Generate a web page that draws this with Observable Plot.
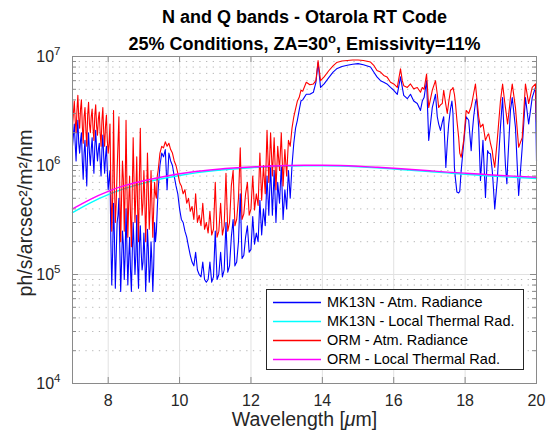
<!DOCTYPE html>
<html><head><meta charset="utf-8">
<script src="https://cdn.jsdelivr.net/npm/d3@7"></script>
<script src="https://cdn.jsdelivr.net/npm/@observablehq/plot@0.6"></script>
<style>
body{margin:0;background:#fff;}
#wrap{position:relative;width:552px;height:437px;font-family:"Liberation Sans",Arial,Helvetica,sans-serif;}
#legend{position:absolute;left:266px;top:289px;width:256px;height:79px;border:1px solid #262626;background:#fff;}
.row{position:absolute;left:0;height:19px;width:100%;}
.row svg{position:absolute;left:6px;top:8px;}
.lab{position:absolute;left:60px;top:0;line-height:19px;font-size:14.5px;color:#000;white-space:nowrap;}
</style></head>
<body><div id="wrap"><div id="chart"></div><div id="legend"></div></div>
<script>
// ---- data ----
const wavelength = [
7,7.05,7.1,7.15,7.2,7.25,7.3,7.35,7.4,7.45,7.5,7.55,7.6,7.65,7.7,7.75,7.8,7.85,7.9,7.95,
8,8.05,8.1,8.15,8.2,8.25,8.3,8.35,8.4,8.45,8.5,8.55,8.6,8.65,8.7,8.75,8.8,8.85,8.9,8.95,
9,9.05,9.1,9.15,9.2,9.25,9.3,9.35,9.4,9.45,9.5,9.55,9.6,9.65,9.7,9.75,9.8,9.85,9.9,9.95,
10,10.05,10.1,10.15,10.2,10.25,10.3,10.35,10.4,10.45,10.5,10.55,10.6,10.65,10.7,10.75,10.8,10.85,10.9,10.95,
11,11.05,11.1,11.15,11.2,11.25,11.3,11.35,11.4,11.45,11.5,11.55,11.6,11.65,11.7,11.75,11.8,11.85,11.9,11.95,
12,12.05,12.1,12.15,12.2,12.25,12.3,12.35,12.4,12.45,12.5,12.55,12.6,12.65,12.7,12.75,12.8,12.85,12.9,12.95,
13,13.05,13.1,13.15,13.2,13.25,13.3,13.35,13.4,
13.45,13.55,13.65,13.75,13.82,13.88,13.95,14.05,14.18,14.3,
14.4,14.55,14.7,14.85,15,15.15,15.35,15.44,15.53,15.63,
15.72,15.81,15.91,16,16.1,16.19,16.24,16.28,16.38,16.47,
16.56,16.66,16.75,16.8,16.85,16.92,16.98,17.08,17.17,17.22,
17.26,17.31,17.36,17.4,17.46,17.5,17.54,17.59,17.63,17.66,
17.7,17.73,17.77,17.82,17.85,17.89,17.96,18.03,18.1,18.17,
18.2,18.24,18.29,18.32,18.38,18.43,18.5,18.57,18.63,18.66,
18.71,18.76,18.78,18.83,18.9,18.99,19.05,19.11,19.13,19.17,
19.19,19.25,19.27,19.32,19.41,19.5,19.6,19.69,19.78,19.88,
19.97,20];

const mk13nRadiance = [
1.5e6,2.4e6,1.1e6,2.6e6,1.3e6,2.0e6,7.5e5,1.7e6,6.5e5,2.0e6,1.0e6,1.8e6,8.5e5,2.1e6,1.1e6,1.6e6,8.0e5,1.9e6,8.5e5,1.5e6,
6.0e5,9.0e5,8.0e4,4.5e5,7.5e4,3.0e5,5.0e5,7.0e4,2.5e5,9.0e4,4.0e5,8.0e4,2.2e5,7.0e4,3.0e5,1.0e5,3.5e5,7.5e4,2.8e5,1.1e5,
2.4e5,7.0e4,2.6e5,8.5e4,2.0e5,7.0e4,3.0e5,2.5e5,6.0e5,1.0e6,1.3e6,1.2e6,1.4e6,6.0e5,1.3e6,1.1e6,1.0e6,8.0e5,6.5e5,5.5e5,
4.0e5,3.2e5,3.0e5,2.5e5,2.2e5,1.8e5,1.5e5,1.3e5,1.2e5,1.6e5,1.1e5,1.0e5,9.5e4,1.3e5,9.0e4,8.5e4,9.0e4,1.3e5,8.5e4,9.5e4,
2.5e5,9.0e4,1.0e5,1.6e5,9.5e4,1.1e5,3.0e5,1.05e5,1.2e5,2.2e5,3.2e5,1.2e5,1.3e5,2.0e5,5.5e5,1.4e5,1.5e5,2.2e5,2.8e5,1.6e5,
1.7e5,3.4e5,1.9e5,2.4e5,2.0e5,4.8e5,2.3e5,4.0e5,2.8e5,8.0e5,3.5e5,1.0e6,3.5e5,9.0e5,3.0e5,7.0e5,4.5e5,1.0e6,3.2e5,6.0e5,
4.0e5,9.0e5,5.0e5,1.0e6,1.6e6,2.2e6,2.6e6,3.2e6,3.9e6,
4.0e6,4.5e6,4.5e6,4.7e6,5.8e6,8.8e6,5.2e6,5.6e6,6.4e6,7.2e6,
7.7e6,8.1e6,8.3e6,8.5e6,8.6e6,8.4e6,8.0e6,7.2e6,6.5e6,6.0e6,
5.8e6,5.6e6,5.2e6,4.9e6,4.5e6,6.5e6,5.2e6,4.4e6,4.1e6,4.5e6,
3.9e6,3.7e6,3.2e6,3.9e6,4.2e6,6.0e6,1.7e6,3.4e6,4.5e6,2.8e6,
2.4e6,2.1e6,2.5e6,2.8e6,9.6e5,1.6e6,2.4e6,3.3e6,3.9e6,3.0e6,
9.6e5,7.5e5,5.7e5,5.6e5,5.8e5,9.0e5,1.6e6,2.8e6,2.6e6,1.37e6,
2.0e6,2.8e6,3.8e6,4.1e6,2.25e6,7.3e5,1.7e6,5.1e5,1.37e6,1.3e6,
1.28e6,9.0e5,7.3e5,4.0e5,7.3e5,2.25e6,4.2e6,1.37e6,1.0e6,6.8e5,
1.0e6,2.4e6,3.2e6,4.2e6,2.25e6,5.3e5,1.47e6,4.2e6,2.4e6,4.2e6,
5.2e6,1.1e6];

const ormRadiance = [
2.3e6,3.9e6,2.0e6,4.4e6,2.2e6,4.0e6,1.6e6,3.4e6,1.5e6,3.8e6,2.0e6,3.3e6,1.7e6,3.6e6,1.9e6,3.1e6,1.5e6,3.4e6,1.5e6,2.9e6,
1.3e6,2.4e6,2.5e5,3.2e6,3.0e5,9.0e5,2.8e6,2.0e5,1.1e6,2.5e5,2.6e6,2.2e5,8.0e5,1.8e5,1.8e6,3.0e5,1.2e6,2.0e5,2.2e6,3.5e5,
9.0e5,2.0e5,1.3e6,2.6e5,9.0e5,2.2e5,7.0e5,5.0e5,9.0e5,1.3e6,1.5e6,1.45e6,1.65e6,1.5e6,1.6e6,1.4e6,1.3e6,1.1e6,1.0e6,8.5e5,
7.0e5,6.5e5,5.5e5,6.0e5,4.5e5,5.0e5,3.8e5,4.2e5,3.2e5,5.5e5,3.0e5,3.5e5,2.8e5,4.5e5,2.6e5,3.0e5,2.4e5,3.8e5,2.3e5,2.6e5,
7.0e5,2.2e5,2.5e5,4.5e5,2.3e5,2.8e5,8.5e5,2.5e5,3.0e5,6.5e5,9.0e5,2.8e5,3.2e5,5.0e5,1.45e6,3.2e5,3.6e5,5.5e5,7.0e5,3.5e5,
4.0e5,8.0e5,3.9e5,5.5e5,4.3e5,1.3e6,4.8e5,1.0e6,5.5e5,2.1e6,7.0e5,2.0e6,8.0e5,1.8e6,6.0e5,1.5e6,9.0e5,2.0e6,6.5e5,1.4e6,
8.0e5,1.7e6,1.5e6,2.2e6,2.8e6,3.3e6,3.9e6,4.2e6,4.9e6,
4.8e6,5.8e6,5.5e6,5.6e6,6.0e6,9.2e6,6.0e6,6.5e6,7.4e6,8.2e6,
8.8e6,9.1e6,9.2e6,9.3e6,9.3e6,9.2e6,8.9e6,8.3e6,7.45e6,7.2e6,
6.7e6,6.5e6,5.8e6,5.6e6,5.2e6,7.7e6,6.0e6,5.4e6,5.2e6,5.6e6,
5.05e6,5.2e6,4.7e6,5.2e6,5.0e6,6.9e6,3.4e6,4.9e6,6.0e6,4.5e6,
3.4e6,3.6e6,3.7e6,4.9e6,3.6e6,3.0e6,3.8e6,4.9e6,5.0e6,5.2e6,
4.5e6,3.7e6,2.6e6,1.8e6,1.3e6,1.19e6,1.7e6,3.2e6,3.0e6,3.5e6,
3.9e6,4.6e6,5.6e6,4.4e6,2.8e6,2.25e6,2.4e6,1.7e6,1.9e6,1.95e6,
1.6e6,1.37e6,1.2e6,9.6e5,1.7e6,3.9e6,5.6e6,3.8e6,3.4e6,2.7e6,
2.4e6,3.6e6,4.2e6,5.6e6,3.4e6,1.47e6,1.8e6,5.6e6,3.7e6,5.2e6,
5.6e6,2.5e6];

// extra readings in the densest band (7-9.4 um), between the samples above
const wavelengthFine = [
7.025,7.075,7.125,7.175,7.225,7.275,7.325,7.375,7.425,7.475,7.525,7.575,7.625,7.675,7.725,7.775,7.825,7.875,7.925,7.975,
8.025,8.075,8.125,8.175,8.225,8.275,8.325,8.375,8.425,8.475,8.525,8.575,8.625,8.675,8.725,8.775,8.825,8.875,8.925,8.975,
9.025,9.075,9.125,9.175,9.225,9.275,9.325,9.375];
const mk13nFine = [
1.9e6,1.6e6,1.9e6,1.6e6,1.7e6,1.1e6,1.3e6,1.0e6,1.4e6,1.3e6,1.4e6,1.2e6,1.5e6,1.4e6,1.4e6,1.1e6,1.4e6,1.2e6,1.2e6,9.0e5,
7.5e5,2.0e5,1.6e5,2.2e5,1.5e5,3.5e5,1.8e5,1.3e5,1.9e5,1.5e5,1.8e5,1.4e5,1.1e5,1.6e5,1.8e5,1.5e5,1.2e5,1.9e5,1.6e5,1.3e5,
1.5e5,1.2e5,1.7e5,1.1e5,1.3e5,1.2e5,2.0e5,4.0e5];
const ormFine = [
3.0e6,2.6e6,3.2e6,2.7e6,3.3e6,2.3e6,2.8e6,2.1e6,2.9e6,2.4e6,2.8e6,2.2e6,2.9e6,2.3e6,2.7e6,2.0e6,2.6e6,2.0e6,2.3e6,1.7e6,
1.6e6,6.0e5,5.0e5,7.0e5,4.5e5,1.6e6,6.0e5,5.0e5,7.5e5,6.0e5,6.5e5,4.5e5,3.5e5,6.0e5,7.0e5,5.5e5,4.0e5,8.0e5,6.0e5,4.5e5,
5.0e5,4.5e5,6.0e5,4.0e5,4.5e5,4.0e5,5.5e5,8.0e5];

const thermalWavelength = [7,7.5,8,8.5,9,9.5,10,10.5,11,11.5,12,12.5,13,13.5,14,14.5,15,15.5,16,16.5,17,17.5,18,18.5,19,19.5,20];
const mk13nThermal = [3.7e5,4.55e5,5.4e5,6.2e5,6.9e5,7.55e5,8.1e5,8.6e5,9.0e5,9.3e5,9.55e5,9.75e5,9.9e5,9.95e5,9.95e5,9.9e5,9.75e5,9.55e5,9.3e5,9.05e5,8.8e5,8.55e5,8.3e5,8.1e5,7.9e5,7.75e5,7.6e5];
const ormThermal = [4.0e5,4.9e5,5.8e5,6.6e5,7.25e5,7.85e5,8.4e5,8.85e5,9.2e5,9.5e5,9.7e5,9.85e5,1.0e6,1.005e6,1.005e6,1.0e6,9.85e5,9.65e5,9.45e5,9.2e5,8.95e5,8.7e5,8.5e5,8.3e5,8.1e5,7.95e5,7.8e5];

const xTicks = [8,10,12,14,16,18,20];
const yTicks = [1e4,1e5,1e6,1e7];
const yMinorTicks = [2e4,3e4,4e4,5e4,6e4,7e4,8e4,9e4,2e5,3e5,4e5,5e5,6e5,7e5,8e5,9e5,2e6,3e6,4e6,5e6,6e6,7e6,8e6,9e6];

const seriesNames = ["MK13N - Atm. Radiance","MK13N - Local Thermal Rad.","ORM - Atm. Radiance","ORM - Local Thermal Rad."];
const seriesColors = ["#0000ff","#00ffff","#ff0000","#ff00ff"];

const titleLine1 = "N and Q bands - Otarola RT Code";
const titleLine2 = "25% Conditions, ZA=30°, Emissivity=11%";
const xLabel = "Wavelength [μm]";
const yLabel = "ph/s/arcsec²/m²/nm";

// ---- build ----
function series(ws, vs, wf, vf) {
  const rows = ws.map((w, i) => ({w, v: vs[i]}));
  if (wf) wf.forEach((w, i) => rows.push({w, v: vf[i]}));
  return rows.sort((a, b) => a.w - b.w);
}
const atmMK = series(wavelength, mk13nRadiance, wavelengthFine, mk13nFine);
const atmORM = series(wavelength, ormRadiance, wavelengthFine, ormFine);
const thMK = series(thermalWavelength, mk13nThermal);
const thORM = series(thermalWavelength, ormThermal);

const W = 552, H = 437, mL = 72, mR = 16, mT = 56, mB = 54;
const frameW = W - mL - mR, frameH = H - mT - mB;
const boxColor = "#8a8a8a";
const textColor = "#262626";
const font = '"Liberation Sans", Arial, Helvetica, sans-serif';

const plot = Plot.plot({
  width: W, height: H,
  marginLeft: mL, marginRight: mR, marginTop: mT, marginBottom: mB,
  style: {fontFamily: font, fontSize: "16px", color: textColor, background: "#fff"},
  x: {domain: [7, 20]},
  y: {type: "log", domain: [1e4, 1e7]},
  marks: [
    Plot.ruleY(yMinorTicks, {stroke: "#b8b8b8", strokeDasharray: "1.3,5.4"}),
    Plot.ruleX(xTicks, {stroke: "#e1e1e1"}),
    Plot.ruleY(yTicks, {stroke: "#e1e1e1"}),
    Plot.line(atmMK, {x: "w", y: "v", stroke: seriesColors[0], strokeWidth: 1.1}),
    Plot.line(thMK, {x: "w", y: "v", stroke: seriesColors[1], strokeWidth: 1.4, curve: "natural"}),
    Plot.line(atmORM, {x: "w", y: "v", stroke: seriesColors[2], strokeWidth: 1.1}),
    Plot.line(thORM, {x: "w", y: "v", stroke: seriesColors[3], strokeWidth: 1.4, curve: "natural"}),
    // inside ticks (box style)
    Plot.ruleX(xTicks, {stroke: boxColor, insetTop: frameH - 6}),
    Plot.ruleX(xTicks, {stroke: boxColor, insetBottom: frameH - 6}),
    Plot.ruleY(yTicks, {stroke: boxColor, insetRight: frameW - 6}),
    Plot.ruleY(yTicks, {stroke: boxColor, insetLeft: frameW - 6}),
    Plot.ruleY(yMinorTicks, {stroke: boxColor, insetRight: frameW - 4}),
    Plot.ruleY(yMinorTicks, {stroke: boxColor, insetLeft: frameW - 4}),
    Plot.frame({stroke: boxColor}),
    Plot.axisX({ticks: xTicks, tickSize: 0, tickPadding: 11, label: null, fontSize: 16, fill: textColor}),
    Plot.axisY({ticks: yTicks, tickSize: 0, tickPadding: 12, label: null, fontSize: 16, fill: textColor,
      tickFormat: d => "10^" + Math.round(Math.log10(d))}),
    Plot.text([xLabel], {text: d => d, frameAnchor: "bottom", lineAnchor: "middle", textAnchor: "middle", dy: 36, fontSize: 19.5, fill: textColor}),
    Plot.text([yLabel], {text: d => d, frameAnchor: "left", lineAnchor: "middle", textAnchor: "middle", rotate: -90, dx: -47, dy: -7, fontSize: 19.5, fill: textColor}),
    Plot.text([titleLine1], {text: d => d, frameAnchor: "top", lineAnchor: "middle", textAnchor: "middle", dy: -39, fontSize: 18, fontWeight: "bold", fill: "#000"}),
    Plot.text([titleLine2], {text: d => d, frameAnchor: "top", lineAnchor: "middle", textAnchor: "middle", dy: -12, fontSize: 18, fontWeight: "bold", fill: "#000"})
  ]
});

// typographic touches: exponents, superscript o, italic mu
d3.select(plot).selectAll("text").each(function() {
  const t = this.textContent;
  const sel = d3.select(this);
  const m = /^10\^(\d+)$/.exec(t);
  if (m) {
    this.textContent = "10";
    sel.append("tspan").attr("dy", "-7").attr("font-size", "0.72em").text(m[1]);
  } else if (t.includes("°")) {
    const parts = t.split("°");
    this.textContent = parts[0];
    sel.append("tspan").attr("dy", "-7").attr("font-size", "0.72em").text("o");
    sel.append("tspan").attr("dy", "7").text(parts[1]);
  } else if (t.includes("μ")) {
    const parts = t.split("μ");
    this.textContent = parts[0];
    sel.append("tspan").attr("font-style", "italic").text("μ");
    sel.append("tspan").text(parts[1]);
  }
});

document.getElementById("chart").appendChild(plot);

// legend
const legend = d3.select("#legend");
seriesNames.forEach((name, i) => {
  const row = legend.append("div").attr("class", "row").style("top", (2.5 + i * 19) + "px");
  const sw = row.append("svg").attr("width", 48).attr("height", 3);
  sw.append("line").attr("x1", 0).attr("x2", 48).attr("y1", 1.5).attr("y2", 1.5)
    .attr("stroke", seriesColors[i]).attr("stroke-width", 1.6);
  row.append("div").attr("class", "lab").text(name);
});
</script></body></html>
